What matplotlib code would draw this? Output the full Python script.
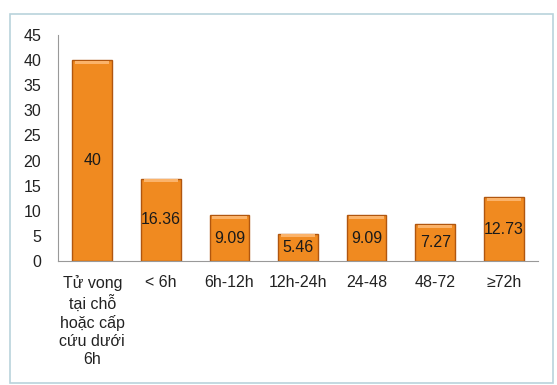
import numpy as np
import matplotlib.pyplot as plt
from matplotlib.patches import Rectangle

categories = ['Tử vong\ntại chỗ\nhoặc cấp\ncứu dưới\n6h', '< 6h', '6h-12h', '12h-24h', '24-48', '48-72', '≥72h']
values = [40, 16.36, 9.09, 5.46, 9.09, 7.27, 12.73]
value_labels = ['40', '16.36', '9.09', '5.46', '9.09', '7.27', '12.73']
yticks = [0, 5, 10, 15, 20, 25, 30, 35, 40, 45]

plt.rcParams['font.family'] = ['Liberation Sans', 'DejaVu Sans']

W, H = 557, 385
fig = plt.figure(figsize=(W / 100, H / 100), dpi=100)
fig.patch.set_facecolor('white')

# khung biểu đồ
fig.patches.append(Rectangle((10 / W, 2 / H), 543 / W, 369 / H, transform=fig.transFigure,
                             facecolor='white', edgecolor='#b9d3dc', lw=1.2, zorder=-10))

ax = fig.add_axes([58 / W, 1 - 261 / H, 480 / W, 226 / H])
ax.patch.set_alpha(0)
x = np.arange(len(values))
ax.bar(x, values, width=0.58, color='#f08a20', edgecolor='#b0560f', linewidth=1.0, zorder=2)
# vệt sáng trên đỉnh cột
ax.bar(x, [0.6] * len(values), bottom=np.array(values) - 0.7, width=0.5,
       color='#fbb36a', linewidth=0, zorder=3)

for xi, v, lab in zip(x, values, value_labels):
    ax.text(xi, v / 2, lab, ha='center', va='center', fontsize=11.5, color='#1a1a1a', zorder=4)

ax.set_xlim(-0.5, len(values) - 0.5)
ax.set_ylim(0, 45)
ax.set_yticks(yticks)
ax.set_xticks(x)
ax.set_xticklabels(categories, fontsize=11.5, color='#222222', linespacing=1.25, va='top')
ax.tick_params(axis='both', length=0, labelsize=11.5, colors='#222222')
ax.tick_params(axis='x', pad=10)
ax.tick_params(axis='y', pad=12)
for s in ['top', 'right']:
    ax.spines[s].set_visible(False)
ax.spines['left'].set_color('#999999')
ax.spines['bottom'].set_color('#999999')

fig.savefig('out.png', dpi=100)
